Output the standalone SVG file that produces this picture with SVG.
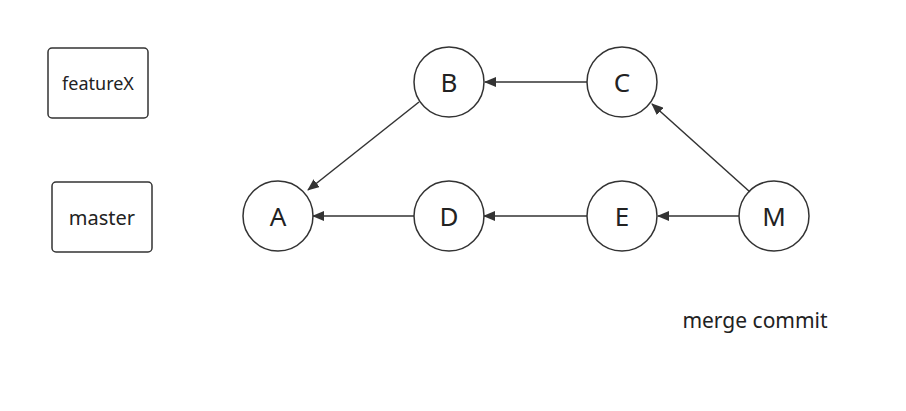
<svg xmlns="http://www.w3.org/2000/svg" width="906" height="411" viewBox="0 0 906 411">
<style>
.n{fill:#fff;stroke:#333;stroke-width:1.5}
.t{font-family:"Noto Sans","Open Sans",sans-serif;fill:#222;text-anchor:middle;dominant-baseline:central}
.c{stroke:#333;stroke-width:1.5;fill:none;marker-end:url(#ah)}
</style>
<defs><marker id="ah" markerWidth="12" markerHeight="10" refX="11" refY="5" orient="auto" markerUnits="userSpaceOnUse"><path d="M0,0 L12,5 L0,10 Z" fill="#333"/></marker></defs>
<rect width="906" height="411" fill="#fff"/>
<g id="featureX"><rect class="n" x="48" y="48" width="100" height="70" rx="4"/><text class="t" x="98" y="83" font-size="18">featureX</text></g>
<g id="master"><rect class="n" x="52" y="182" width="100" height="70" rx="4"/><text class="t" x="102" y="217" font-size="20">master</text></g>
<g id="A"><circle class="n" cx="278" cy="216" r="35"/><text class="t" x="278" y="216" font-size="26">A</text></g>
<g id="D"><circle class="n" cx="449" cy="216" r="35"/><text class="t" x="449" y="216" font-size="26">D</text></g>
<g id="E"><circle class="n" cx="622" cy="216" r="35"/><text class="t" x="622" y="216" font-size="26">E</text></g>
<g id="M"><circle class="n" cx="774" cy="216" r="35"/><text class="t" x="774" y="216" font-size="26">M</text></g>
<g id="B"><circle class="n" cx="449" cy="82" r="35"/><text class="t" x="449" y="82" font-size="26">B</text></g>
<g id="C"><circle class="n" cx="622" cy="82" r="35"/><text class="t" x="622" y="82" font-size="26">C</text></g>
<g id="connectors">
<line class="c" x1="419" y1="102" x2="308" y2="190"/>
<line class="c" x1="587" y1="82" x2="485" y2="82"/>
<line class="c" x1="750" y1="192" x2="652" y2="104"/>
<line class="c" x1="414" y1="216" x2="313" y2="216"/>
<line class="c" x1="587" y1="216" x2="484" y2="216"/>
<line class="c" x1="739" y1="216" x2="658" y2="216"/>
</g>
<text class="t" x="755" y="320" font-size="21">merge commit</text>
</svg>
